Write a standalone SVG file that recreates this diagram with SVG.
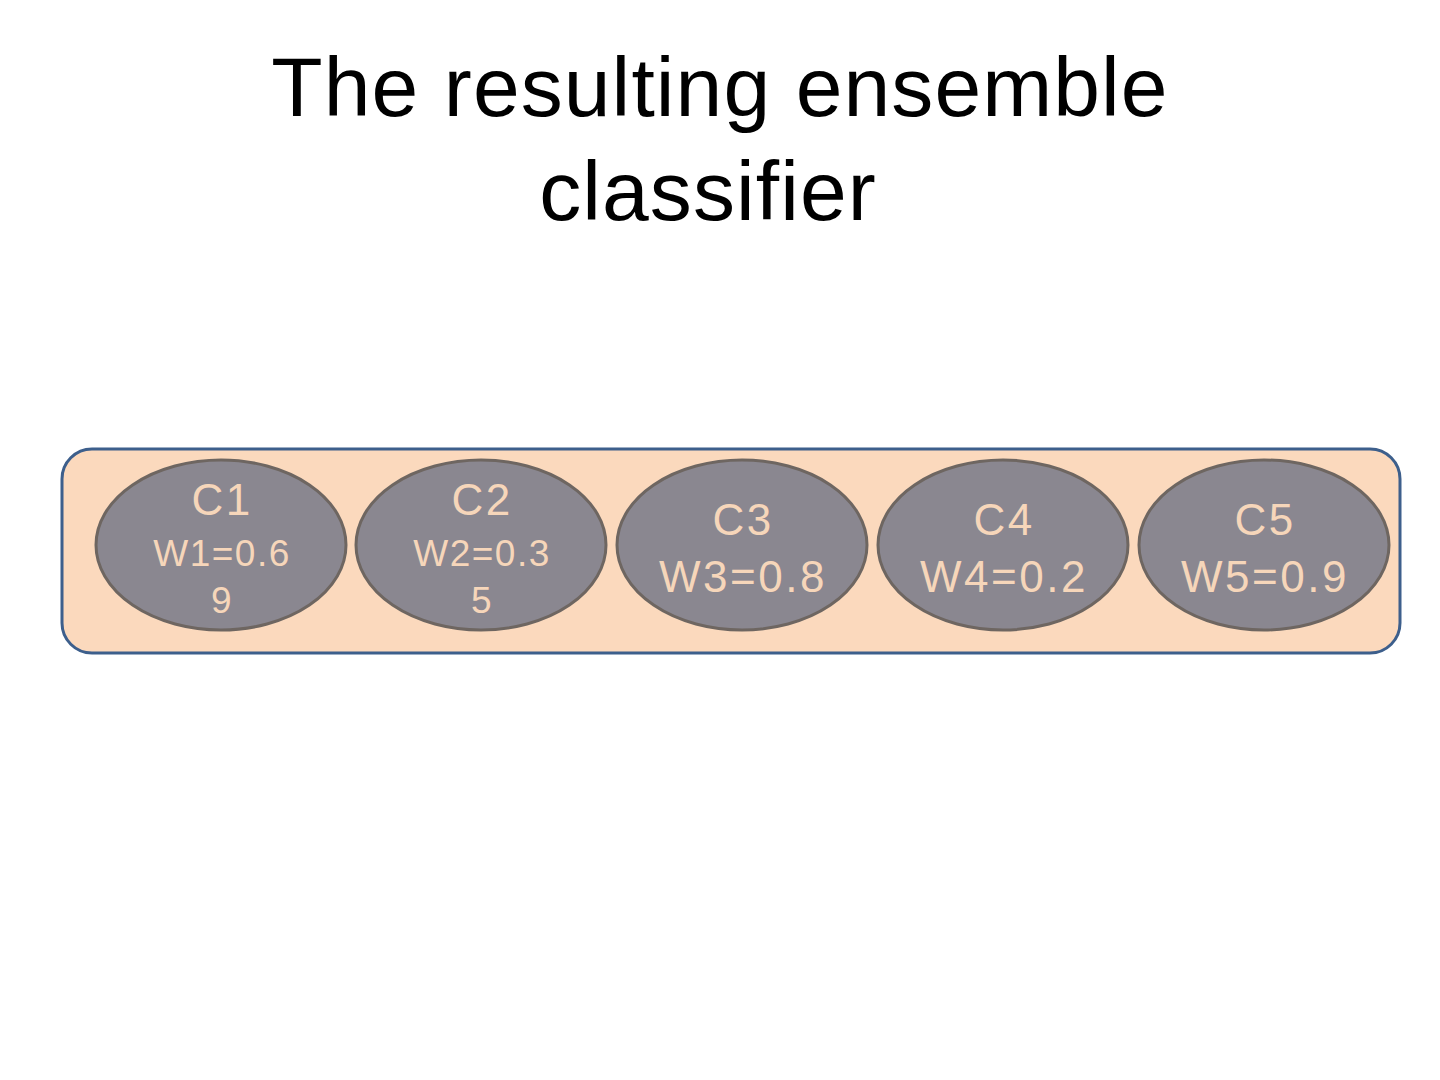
<svg xmlns="http://www.w3.org/2000/svg" width="1440" height="1080" viewBox="0 0 1440 1080">
<style>
.title{font-family:"Liberation Sans",Arial,sans-serif;font-size:84px;fill:#000;text-anchor:middle;letter-spacing:1.1px}
.ell{fill:#8a8790;stroke:#6e6661;stroke-width:3}
.lbl{font-family:"Liberation Sans",Arial,sans-serif;fill:#f6d6ba;text-anchor:middle}
.big{font-size:44px;letter-spacing:2.5px}
.sm{font-size:37px;letter-spacing:1.5px}
</style>
<rect width="1440" height="1080" fill="#fff"/>
<g id="title">
<text class="title" x="720" y="116">The resulting ensemble</text>
<text class="title" x="708" y="220">classifier</text>
</g>
<g id="container">
<rect x="62" y="449" width="1338" height="204" rx="30" ry="30" fill="#fbd9bd" stroke="#3d5f8c" stroke-width="3"/>
</g>
<g id="c1">
<ellipse class="ell" cx="221" cy="545" rx="125" ry="85"/>
<text class="lbl big" x="222" y="515">C1</text>
<text class="lbl sm" x="222" y="566">W1=0.6</text>
<text class="lbl sm" x="222" y="613">9</text>
</g>
<g id="c2">
<ellipse class="ell" cx="481" cy="545" rx="125" ry="85"/>
<text class="lbl big" x="482" y="515">C2</text>
<text class="lbl sm" x="482" y="566">W2=0.3</text>
<text class="lbl sm" x="482" y="613">5</text>
</g>
<g id="c3">
<ellipse class="ell" cx="742" cy="545" rx="125" ry="85"/>
<text class="lbl big" x="743" y="535">C3</text>
<text class="lbl big" x="743" y="592">W3=0.8</text>
</g>
<g id="c4">
<ellipse class="ell" cx="1003" cy="545" rx="125" ry="85"/>
<text class="lbl big" x="1004" y="535">C4</text>
<text class="lbl big" x="1004" y="592">W4=0.2</text>
</g>
<g id="c5">
<ellipse class="ell" cx="1264" cy="545" rx="125" ry="85"/>
<text class="lbl big" x="1265" y="535">C5</text>
<text class="lbl big" x="1265" y="592">W5=0.9</text>
</g>
<g id="connectors"></g>
</svg>
